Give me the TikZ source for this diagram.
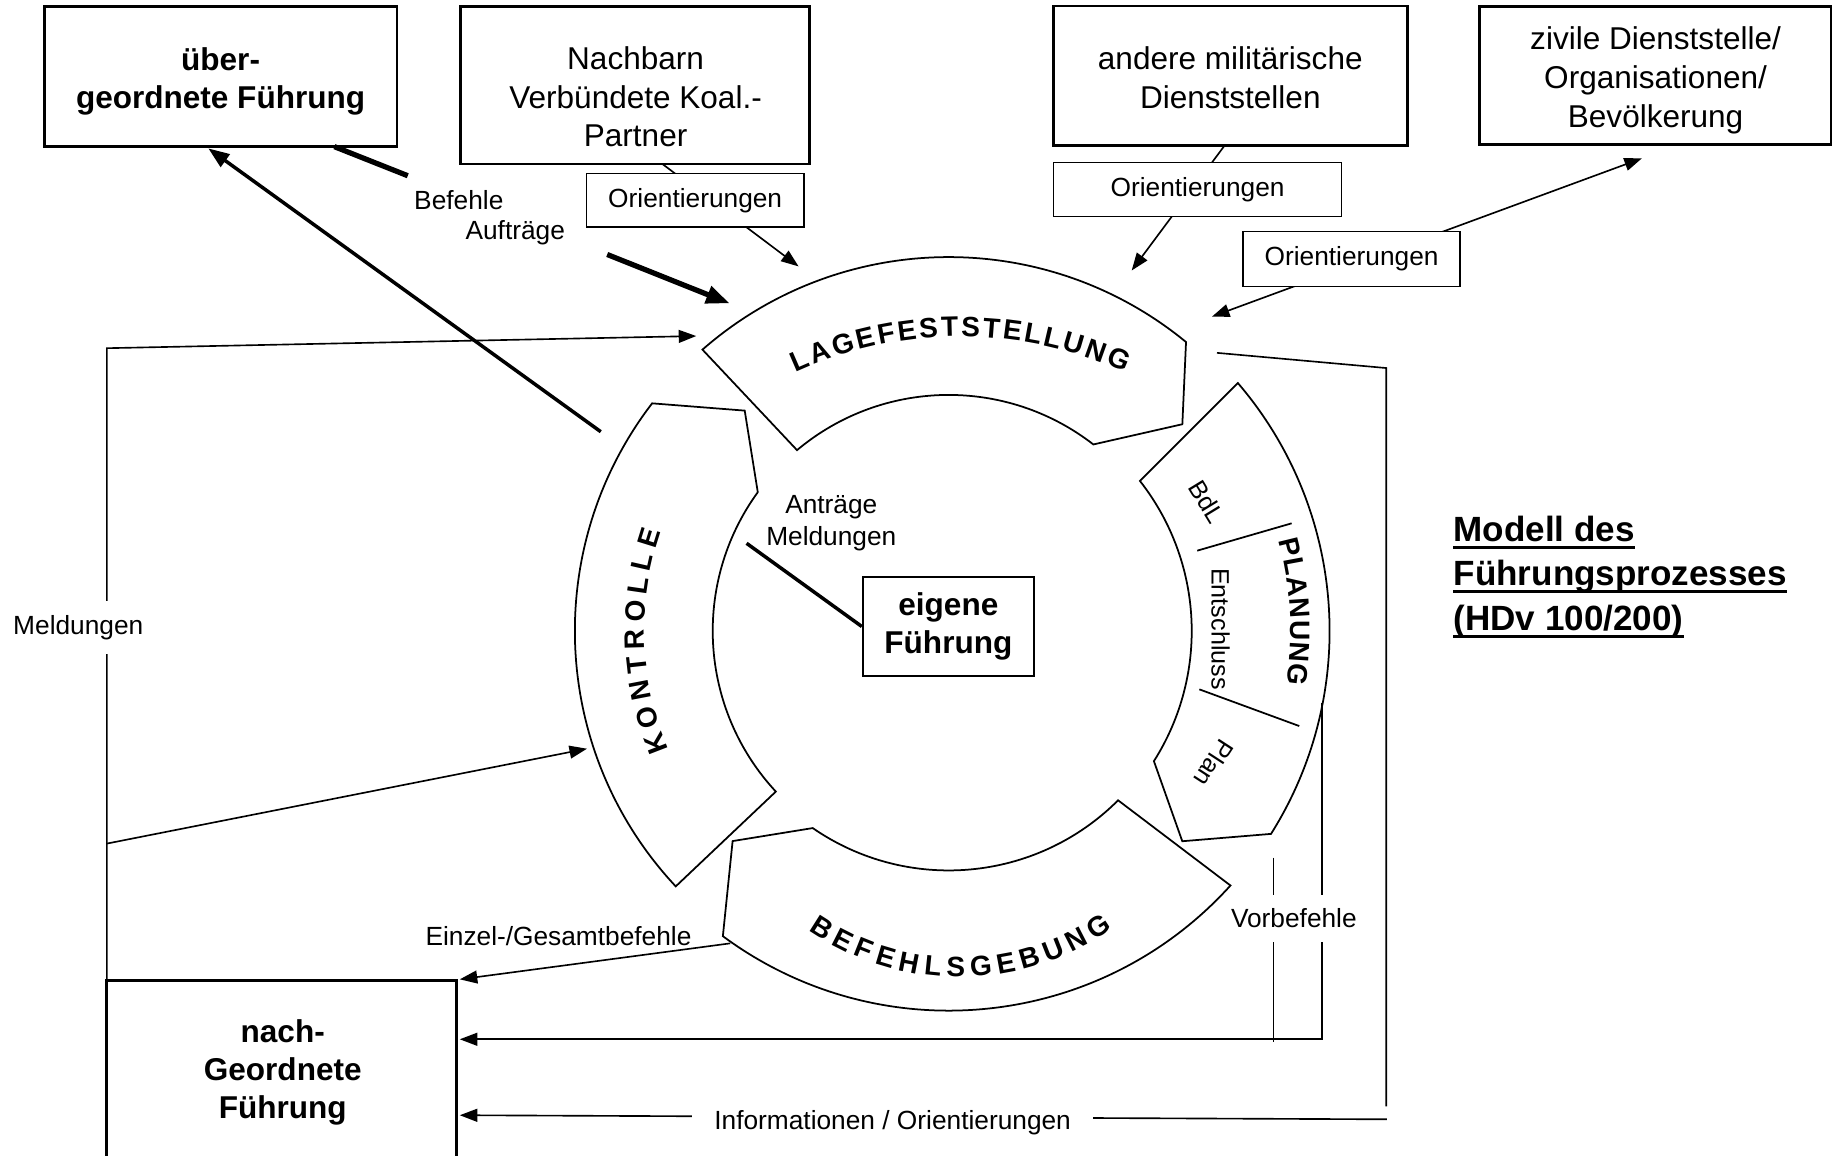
\documentclass[tikz,border=0pt]{standalone}
\usepackage{fontspec}
\setmainfont{Liberation Sans}
\usetikzlibrary{arrows.meta,calc,decorations.text}
\begin{document}
\begin{tikzpicture}[x=1pt,y=1pt,
  topbox/.style={draw,line width=2.5pt,inner sep=0pt,align=center,font=\fontsize{27}{33}\selectfont},
  boldlbl/.style={font=\bfseries\fontsize{27}{32.5}\selectfont,align=center,inner sep=0pt},
  orbox/.style={draw,line width=1.3pt,fill=white,inner sep=0pt,font=\fontsize{22.5}{27}\selectfont},
  lbl/.style={font=\fontsize{22.5}{27.5}\selectfont,inner sep=0pt,align=center},
  plbl/.style={font=\fontsize{21.5}{26}\selectfont,inner sep=0pt},
  seg/.style={draw,line width=1.5pt,fill=white,line join=miter},
  conn/.style={line width=1.4pt},
  arr/.style={conn,-{Triangle[length=15pt,width=11pt]}},
  ringtxt/.style={decorate,decoration={text along path,text align=fit to path}},
  title/.style={font=\bfseries\fontsize{30}{38}\selectfont,inner sep=0pt,anchor=base west},
]
\useasboundingbox (0,0) rectangle (1568,-989);

% ---------------- ring ----------------
\coordinate (C) at (812,-540);
% LAGEFESTSTELLUNG
\draw[seg] ($(C)+(131.2:320)$) arc[start angle=131.2,end angle=50.6,radius=320]
  -- ($(C)+(41.5:267)$) -- ($(C)+(52.2:202)$)
  arc[start angle=52.2,end angle=130,radius=202] -- cycle;
% KONTROLLE
\draw[seg] ($(C)+(142.5:320)$) arc[start angle=142.5,end angle=223.1,radius=320]
  -- ($(C)+(222.9:202)$) arc[start angle=222.9,end angle=144,radius=202]
  -- ($(C)+(132.8:257)$) -- cycle;
% PLANUNG
\draw[seg] ($(C)+(40.6:326)$) arc[start angle=40.6,end angle=-32.2,radius=326]
  -- ($(C)+(-42:269)$) -- ($(C)+(-32.4:208)$)
  arc[start angle=-32.4,end angle=38.1,radius=208] -- cycle;
% BEFEHLSGEBUNG
\draw[seg] ($(C)+(317.9:325)$) arc[start angle=317.9,end angle=233.5,radius=325]
  -- ($(C)+(224.2:258)$) -- ($(C)+(235.4:205)$)
  arc[start angle=235.4,end angle=315,radius=205] -- cycle;

% ring texts
\path[ringtxt,decoration={text={|\fontsize{24}{24}\selectfont\bfseries|LAGEFESTSTELLUNG}}]
  ($(822,-627)+(114.6:339)$) arc[start angle=114.6,end angle=65.4,radius=339];
\path[ringtxt,decoration={text={|\fontsize{24}{24}\selectfont\bfseries|KONTROLLE}}]
  ($(C)+(203:260.5)$) arc[start angle=203,end angle=161,radius=260.5];
\path[ringtxt,decoration={text={|\fontsize{24}{24}\selectfont\bfseries|PLANUNG}}]
  ($(C)+(15.3:292.5)$) arc[start angle=15.3,end angle=-9,radius=292.5];
\path[ringtxt,decoration={text={|\fontsize{24}{24}\selectfont\bfseries|BEFEHLSGEBUNG}}]
  ($(821,-609)+(235.5:227.2)$) arc[start angle=235.5,end angle=305.3,radius=227.2];

% PLANUNG inner parts
\node[plbl,rotate=-58.6] (bdl) at (1032.8,-429.4) {BdL};
\node[plbl,rotate=-90] (ents) at (1044.7,-538.3) {Entschluss};
\node[plbl,rotate=-123] (plan) at (1039,-653.3) {Plan};
\coordinate (d1a) at (1024.7,-471.3); \coordinate (d1b) at (1105.5,-447.9);
\coordinate (d2a) at (1026.5,-590);   \coordinate (d2b) at (1112,-621.4);
\draw[line width=1.5pt] (d1a) -- (d1b);
\draw[line width=1.5pt] (d2a) -- (d2b);

% ---------------- boxes ----------------
\node[topbox,minimum width=302pt,minimum height=120pt] (B1) at (188.8,-65.6) {};
\node[boldlbl] (B1t) at (188.8,-69.5) {über-\\geordnete Führung};
\node[topbox,minimum width=299pt,minimum height=134.7pt] (B2) at (543.6,-73) {};
\node[lbl,font=\fontsize{27}{33}\selectfont] (B2t) at (544,-83) {Nachbarn\\Verbündete Koal.-\\Partner};
\node[topbox,minimum width=302.7pt,minimum height=119.6pt] (B3) at (1053,-64.9) {};
\node[lbl,font=\fontsize{27}{33}\selectfont] (B3t) at (1053,-66.5) {andere militärische\\Dienststellen};
\node[topbox,minimum width=301pt,minimum height=117.6pt] (B4) at (1416.7,-64.5) {};
\node[lbl,font=\fontsize{27}{33.5}\selectfont] (B4t) at (1417,-68.5) {zivile Dienststelle/\\Organisationen/\\Bevölkerung};
\node[draw,line width=1.5pt,minimum width=146.7pt,minimum height=84.3pt,inner sep=0pt,font=\bfseries\fontsize{27}{32.5}\selectfont,align=center] (E) at (811.7,-536.2) {eigene\\Führung};
\node[draw,line width=2.5pt,outer sep=0pt,minimum width=299.6pt,minimum height=300pt,anchor=north west] (B5) at (91.5,-839.5) {};
\node[boldlbl] (B5t) at (242,-918) {nach-\\Geordnete\\Führung};

% ---------------- connectors ----------------
\coordinate (mTop) at (91.5,-298);
\coordinate (lageL) at (595.9,-287.6);
\coordinate (mBr) at (91.5,-722);
\coordinate (kontL) at (502.4,-640.8);
\draw[arr] (B5.north west) -- (mTop) -- (lageL);
\draw[arr] (mBr) -- (kontL);

\coordinate (bA) at (286.2,-125.5);
\coordinate (bG1) at (349,-150.4);
\coordinate (bG2) at (519.7,-217.8);
\coordinate (lageB) at (624.4,-259.6);
\draw[line width=4.5pt] (bA) -- (bG1);
\draw[line width=4.5pt,-{Triangle[length=20pt,width=15pt]}] (bG2) -- (lageB);

\coordinate (kB) at (514.2,-369.5);
\coordinate (b1In) at (178.3,-127);
\draw[line width=3pt,-{Triangle[length=18pt,width=13pt]}] (kB) -- (b1In);

\coordinate (b2o) at (567,-140.4);
\coordinate (lageO1) at (683.5,-228);
\draw[arr] (b2o) -- (lageO1);
\coordinate (b3o) at (1048,-124.7);
\coordinate (lageO2) at (968.6,-231.5);
\draw[arr] (b3o) -- (lageO2);
\coordinate (lageO3) at (1037.3,-271);
\coordinate (b4in) at (1405.3,-135.5);
\draw[conn,{Triangle[length=15pt,width=11pt]}-{Triangle[length=15pt,width=11pt]}] (lageO3) -- (b4in);

\coordinate (r1) at (1041.6,-302);
\coordinate (r2) at (1186.5,-315);
\coordinate (r3) at (1186.5,-947);
\coordinate (r4) at (1187,-958);
\coordinate (infoEnd) at (393.5,-954.5);
\draw[conn] (r1) -- (r2) -- (r3);
\draw[arr] (r4) -- (infoEnd);

\coordinate (vR) at (1131.3,-602);
\coordinate (vEnd) at (393.5,-889.5);
\coordinate (vL) at (1090,-734);
\coordinate (vLb) at (1090,-892);
\draw[arr] (vR) |- (vEnd);
\draw[conn] (vL) -- (vLb);

\coordinate (befL) at (625,-807.4);
\coordinate (b5ne) at (393.5,-838.2);
\draw[arr] (befL) -- (b5ne);

\coordinate (antS) at (639,-465);
\draw[line width=3pt] (antS) -- (E.west);

% ---------------- labels ----------------
\node[lbl,fill=white,inner xsep=2pt,inner ysep=12pt] (mLbl) at (67,-537) {Meldungen};
\node[lbl,fill=white,inner xsep=1pt,inner ysep=12pt] (vLbl) at (1107.4,-786) {Vorbefehle};
\node[lbl,fill=white,inner xsep=19pt,inner ysep=3pt] (infoLbl) at (764,-961) {Informationen / Orientierungen};
\node[lbl] (einzLbl) at (478,-801) {Einzel-/Gesamtbefehle};
\node[lbl] (bef) at (392.7,-171.5) {Befehle};
\node[lbl] (auf) at (441,-199) {Aufträge};
\node[lbl] (ant) at (711.5,-447.5) {Anträge\\Meldungen};

\node[orbox,minimum width=186pt,minimum height=46pt] (O1) at (595,-171.5) {Orientierungen};
\node[orbox,minimum width=246.7pt,minimum height=46.2pt] (O2) at (1025,-162.3) {Orientierungen};
\node[orbox,minimum width=185.7pt,minimum height=47pt] (O3) at (1156.8,-221.8) {Orientierungen};

\node[title] (T1) at (1244,-463.6) {Modell des};
\node[title] (T2) at (1244,-501.5) {Führungsprozesses};
\node[title] (T3) at (1244,-539.8) {(HDv 100/200)};
\draw[line width=2.8pt] ([yshift=-4.8pt]T1.base west) -- ([yshift=-4.8pt]T1.base east);
\draw[line width=2.8pt] ([yshift=-4.8pt]T2.base west) -- ([yshift=-4.8pt]T2.base east);
\draw[line width=2.8pt] ([yshift=-4.8pt]T3.base west) -- ([yshift=-4.8pt]T3.base east);
\end{tikzpicture}
\end{document}
